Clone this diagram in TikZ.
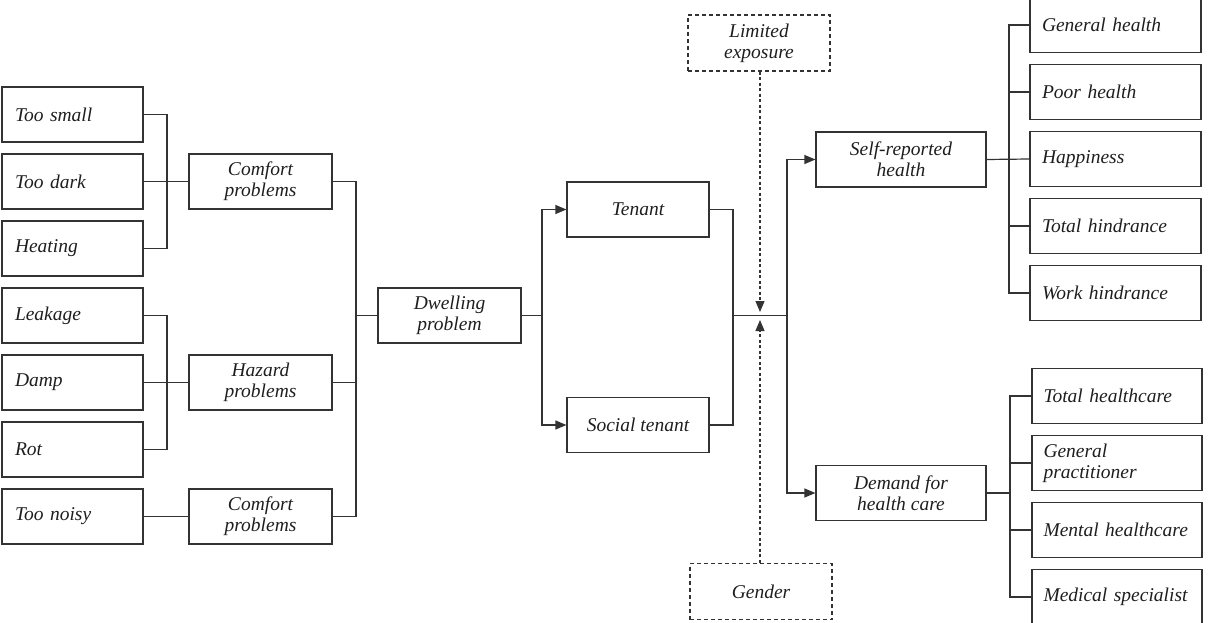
\documentclass[tikz,border=0pt]{standalone}
\usepackage{fontspec}
\setmainfont{Liberation Serif}
\usetikzlibrary{arrows.meta,calc}
\definecolor{ln}{HTML}{333333}
\definecolor{tx}{HTML}{1E1E1E}
\begin{document}
\begin{tikzpicture}[x=1pt,y=-1pt,
  every node/.style={font=\fontsize{19.5}{21}\selectfont\itshape, text=tx},
  box/.style={draw=ln, line width=1.2pt, rectangle, inner sep=0pt, minimum height=55pt, align=center},
  lbox/.style={box, minimum width=141pt, text width=115pt, align=left},
  mbox/.style={box, minimum width=143pt},
  rbox/.style={box, minimum width=171pt, text width=147pt, align=left},
  dbox/.style={box, dashed, dash pattern=on 4pt off 3pt, minimum width=142pt, minimum height=56pt},
  con/.style={draw=ln, line width=1.2pt},
  arr/.style={con, -{Triangle[length=11pt,width=9pt]}},
  darr/.style={arr, dash pattern=on 3pt off 2.5pt}
]
\useasboundingbox (0,0) rectangle (1208,623);
% left column
\node[lbox] (ts) at (72.5,114.5) {Too small};
\node[lbox] (td) at (72.5,181.5) {Too dark};
\node[lbox] (he) at (72.5,248.5) {Heating};
\node[lbox] (le) at (72.5,315.5) {Leakage};
\node[lbox] (da) at (72.5,382.5) {Damp};
\node[lbox] (ro) at (72.5,449.5) {Rot};
\node[lbox] (tn) at (72.5,516.5) {Too noisy};
% second column
\node[mbox] (c1) at (260.5,181.5) {Comfort\\problems};
\node[mbox] (hz) at (260.5,382.5) {Hazard\\problems};
\node[mbox] (c2) at (260.5,516.5) {Comfort\\problems};
% middle
\node[mbox] (dw) at (449.5,315.5) {Dwelling\\problem};
\node[mbox, minimum width=142pt] (te) at (638,209.5) {Tenant};
\node[mbox, minimum width=142pt] (st) at (638,425) {Social tenant};
\node[dbox] (le2) at (759,43) {Limited\\exposure};
\node[dbox] (ge) at (761,591.5) {Gender};
\node[mbox, minimum width=170pt] (sr) at (901,159.5) {Self-reported\\health};
\node[mbox, minimum width=170pt] (dh) at (901,493) {Demand for\\health care};
% right top
\node[rbox] (gh) at (1115.5,25) {General health};
\node[rbox] (ph) at (1115.5,92) {Poor health};
\node[rbox] (hp) at (1115.5,159) {Happiness};
\node[rbox] (th) at (1115.5,226) {Total hindrance};
\node[rbox] (wh) at (1115.5,293) {Work hindrance};
% right bottom
\node[rbox, minimum width=170pt] (tc) at (1117,396) {Total healthcare};
\node[rbox, minimum width=170pt] (gp) at (1117,463) {General\\practitioner};
\node[rbox, minimum width=170pt] (mh) at (1117,530) {Mental healthcare};
\node[rbox, minimum width=170pt] (ms) at (1117,597) {Medical specialist};

% bracket 1
\coordinate (b1) at (167,181.5);
\draw[con] (ts.east) -| (b1) |- (he.east);
\draw[con] (td.east) -- (c1.west);
% bracket 2
\coordinate (b2) at (167,382.5);
\draw[con] (le.east) -| (b2) |- (ro.east);
\draw[con] (da.east) -- (hz.west);
\draw[con] (tn.east) -- (c2.west);
% bracket 3
\coordinate (b3) at (356,315.5);
\draw[con] (c1.east) -| (b3) |- (c2.east);
\draw[con] (hz.east) -- (hz.east -| b3);
\draw[con] (b3) -- (dw.west);
% split
\coordinate (s1) at (542,315.5);
\draw[con] (dw.east) -- (s1);
\draw[arr] (s1) |- (te.west);
\draw[arr] (s1) |- (st.west);
% join
\coordinate (j1) at (733,315.5);
\coordinate (j2) at (787,315.5);
\draw[con] (te.east) -| (j1) |- (st.east);
\draw[con] (j1) -- (j2);
\draw[arr] (j2) |- (sr.west);
\draw[arr] (j2) |- (dh.west);
% moderators
\coordinate (m1) at (760,312);
\coordinate (m2) at (760,320);
\draw[darr] (le2.south -| m1) -- (m1);
\draw[darr] (ge.north -| m2) -- (m2);
% right brackets
\coordinate (r1) at (1009,159);
\draw[con] (sr.east) -- (hp.west);
\draw[con] (gh.west) -| (r1) |- (wh.west);
\draw[con] (ph.west) -- (ph.west -| r1);
\draw[con] (th.west) -- (th.west -| r1);
\coordinate (r2) at (1010,493);
\draw[con] (dh.east) -- (r2);
\draw[con] (tc.west) -| (r2) |- (ms.west);
\draw[con] (gp.west) -- (gp.west -| r2);
\draw[con] (mh.west) -- (mh.west -| r2);
\end{tikzpicture}
\end{document}
